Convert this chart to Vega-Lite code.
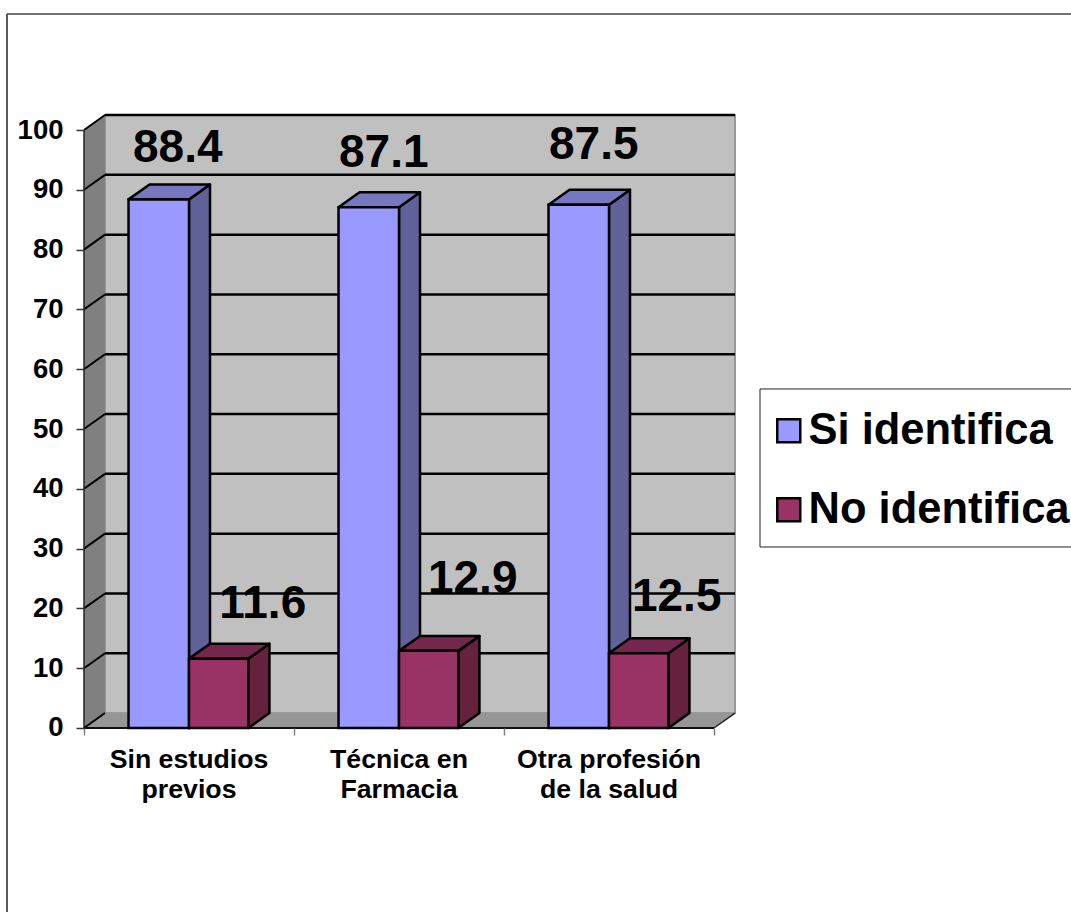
{
"$schema":"https://vega.github.io/schema/vega-lite/v6.json",
"width":1064,"height":898,
"autosize":{"type":"none"},
"padding":{"left":7,"top":14,"right":0,"bottom":0},
"background":"white",
"config":{"font":"Liberation Sans","view":{"stroke":null}},
"data":{"values":[
{"category":"Sin estudios previos","label":"Sin estudios\nprevios","series":"Si identifica","value":88.4},
{"category":"Sin estudios previos","label":"Sin estudios\nprevios","series":"No identifica","value":11.6},
{"category":"Técnica en Farmacia","label":"Técnica en\nFarmacia","series":"Si identifica","value":87.1},
{"category":"Técnica en Farmacia","label":"Técnica en\nFarmacia","series":"No identifica","value":12.9},
{"category":"Otra profesión de la salud","label":"Otra profesión\nde la salud","series":"Si identifica","value":87.5},
{"category":"Otra profesión de la salud","label":"Otra profesión\nde la salud","series":"No identifica","value":12.5}
]},
"transform":[
{"calculate":"indexof(['Sin estudios previos','Técnica en Farmacia','Otra profesión de la salud'],datum.category)","as":"idx"},
{"calculate":"datum.idx+(datum.series==='Si identifica'?0.212:0.5)","as":"x0"},
{"calculate":"datum.idx+(datum.series==='Si identifica'?0.5:0.783)","as":"x1"},
{"calculate":"(datum.x0+datum.x1)/2","as":"xc"}
],
"layer":[
{"data":{"values":[{"k":1}]},"mark":{"type":"rule","stroke":"#222222","strokeWidth":1.5},
 "encoding":{"x":{"datum":-0.3667,"type":"quantitative","scale":{"domain":[-0.3667,4.7],"nice":false,"zero":false},"axis":{"values":[0,1,2,3],"offset":-184,"domain":false,"grid":false,"labels":false,"title":null,"tickSize":7,"tickColor":"#808080","tickWidth":1.5,"zindex":1}}}},
{"data":{"values":[{"k":1}]},"mark":{"type":"rule","stroke":"#444444","strokeWidth":1.5},
 "encoding":{"y":{"datum":119.4,"type":"quantitative","scale":{"domain":[-30.77,119.4],"nice":false,"zero":false},"axis":{"values":[0,10,20,30,40,50,60,70,80,90,100],"offset":-77,"domain":false,"grid":false,"title":null,"tickSize":8,"tickColor":"#333333","tickWidth":1.5,"labelFontSize":27.5,"labelFontWeight":"bold","labelColor":"black","labelPadding":13,"labelFont":"Liberation Sans","zindex":1}}}},
{"data":{"values":[{"k":1}]},"mark":{"type":"rect","fill":"white","stroke":"#222222","strokeWidth":1},
 "encoding":{"x":{"datum":3.219,"type":"quantitative"},"x2":{"datum":4.9},"y":{"datum":56.69,"type":"quantitative"},"y2":{"datum":30.27}}},
{"data":{"values":[{"k":1}]},"mark":{"type":"rect","fill":"#C0C0C0","stroke":"#999999","strokeWidth":2},
 "encoding":{"x":{"datum":0.1,"type":"quantitative"},"x2":{"datum":3.1},"y":{"datum":2.5,"type":"quantitative"},"y2":{"datum":102.5}}},
{"data":{"values":[{"d":0},{"d":1}]},"transform":[{"calculate":"datum.d*0.1","as":"xx"},{"calculate":"datum.d*2.5","as":"yy"},{"calculate":"100+datum.d*2.5","as":"yt"}],
 "mark":{"type":"area","orient":"vertical","fill":"#808080"},
 "encoding":{"x":{"field":"xx","type":"quantitative"},"y":{"field":"yy","type":"quantitative","stack":null},"y2":{"field":"yt"}}},
{"data":{"values":[{"d":0},{"d":1}]},"transform":[{"calculate":"datum.d*0.1","as":"xx"},{"calculate":"3+datum.d*0.1","as":"xr"},{"calculate":"datum.d*2.5","as":"yy"}],
 "mark":{"type":"area","orient":"horizontal","fill":"#969696"},
 "encoding":{"y":{"field":"yy","type":"quantitative"},"x":{"field":"xx","type":"quantitative","stack":null},"x2":{"field":"xr"}}},
{"data":{"values":[{"tick":10},{"tick":20},{"tick":30},{"tick":40},{"tick":50},{"tick":60},{"tick":70},{"tick":80},{"tick":90},{"tick":100}]},
 "transform":[{"calculate":"datum.tick+2.5","as":"ty"}],
 "mark":{"type":"rule","stroke":"black","strokeWidth":2.5},
 "encoding":{"x":{"datum":0.1,"type":"quantitative"},"x2":{"datum":3.1},"y":{"field":"ty","type":"quantitative"}}},
{"data":{"values":[{"tick":0},{"tick":10},{"tick":20},{"tick":30},{"tick":40},{"tick":50},{"tick":60},{"tick":70},{"tick":80},{"tick":90},{"tick":100}]},
 "transform":[{"calculate":"datum.tick+2.5","as":"ty"}],
 "mark":{"type":"rule","stroke":"black","strokeWidth":2},
 "encoding":{"x":{"datum":0,"type":"quantitative"},"x2":{"datum":0.1},
  "y":{"field":"tick","type":"quantitative"},"y2":{"field":"ty"}}},
{"data":{"values":[{"k":1}]},"mark":{"type":"rule","stroke":"#222222","strokeWidth":1.5},
 "encoding":{"x":{"datum":3,"type":"quantitative"},"x2":{"datum":3.1},"y":{"datum":0,"type":"quantitative"},"y2":{"datum":2.5}}},
{"data":{"values":[{"k":1}]},"mark":{"type":"rule","stroke":"#222222","strokeWidth":1.5},
 "encoding":{"x":{"datum":0,"type":"quantitative"},"y":{"datum":0,"type":"quantitative"},"y2":{"datum":100}}},
{"data":{"values":[{"k":1}]},"mark":{"type":"rule","stroke":"#111111","strokeWidth":2},
 "encoding":{"x":{"datum":0,"type":"quantitative"},"x2":{"datum":3},"y":{"datum":0,"type":"quantitative"}}},

{"transform":[{"filter":"datum.series==='Si identifica'"},{"calculate":"[0,1]","as":"d"},{"flatten":["d"]},{"calculate":"datum.x1+0.1*datum.d","as":"sx"},{"calculate":"2.5*datum.d","as":"sb"},{"calculate":"datum.value+2.5*datum.d","as":"st"}],
 "mark":{"type":"area","orient":"vertical","fill":"#616199","stroke":"black","strokeWidth":2.5,"strokeJoin":"round"},
 "encoding":{"x":{"field":"sx","type":"quantitative"},"y":{"field":"sb","type":"quantitative","stack":null},"y2":{"field":"st"},"detail":{"field":"category"}}},
{"transform":[{"filter":"datum.series==='Si identifica'"},{"calculate":"[0,1]","as":"d"},{"flatten":["d"]},{"calculate":"datum.x0+0.1*datum.d","as":"tl"},{"calculate":"datum.x1+0.1*datum.d","as":"tr"},{"calculate":"datum.value+2.5*datum.d","as":"st"}],
 "mark":{"type":"area","orient":"horizontal","fill":"#7777BF","stroke":"black","strokeWidth":2.5,"strokeJoin":"round"},
 "encoding":{"y":{"field":"st","type":"quantitative"},"x":{"field":"tl","type":"quantitative","stack":null},"x2":{"field":"tr"},"detail":{"field":"category"}}},
{"transform":[{"filter":"datum.series==='Si identifica'"}],
 "mark":{"type":"rect","stroke":"black","strokeWidth":2.5},
 "encoding":{"x":{"field":"x0","type":"quantitative"},"x2":{"field":"x1"},"y":{"field":"value","type":"quantitative"},"y2":{"datum":0},
  "color":{"field":"series","type":"nominal","scale":{"domain":["Si identifica","No identifica"],"range":["#9999FF","#993366"]},
   "legend":{"orient":"none","legendX":760,"legendY":395,"title":null,"padding":0,"symbolType":"square","symbolSize":529,"symbolStrokeColor":"black","symbolStrokeWidth":2.5,"symbolOpacity":1,"labelFontSize":43.5,"labelFontWeight":"bold","labelColor":"black","labelFont":"Liberation Sans","labelOffset":-2,"rowPadding":34,"labelLimit":400}}}},

{"transform":[{"filter":"datum.series==='No identifica'"},{"calculate":"[0,1]","as":"d"},{"flatten":["d"]},{"calculate":"datum.x1+0.1*datum.d","as":"sx"},{"calculate":"2.5*datum.d","as":"sb"},{"calculate":"datum.value+2.5*datum.d","as":"st"}],
 "mark":{"type":"area","orient":"vertical","fill":"#66213F","stroke":"black","strokeWidth":2.5,"strokeJoin":"round"},
 "encoding":{"x":{"field":"sx","type":"quantitative"},"y":{"field":"sb","type":"quantitative","stack":null},"y2":{"field":"st"},"detail":{"field":"category"}}},
{"transform":[{"filter":"datum.series==='No identifica'"},{"calculate":"[0,1]","as":"d"},{"flatten":["d"]},{"calculate":"datum.x0+0.1*datum.d","as":"tl"},{"calculate":"datum.x1+0.1*datum.d","as":"tr"},{"calculate":"datum.value+2.5*datum.d","as":"st"}],
 "mark":{"type":"area","orient":"horizontal","fill":"#73274D","stroke":"black","strokeWidth":2.5,"strokeJoin":"round"},
 "encoding":{"y":{"field":"st","type":"quantitative"},"x":{"field":"tl","type":"quantitative","stack":null},"x2":{"field":"tr"},"detail":{"field":"category"}}},
{"transform":[{"filter":"datum.series==='No identifica'"}],
 "mark":{"type":"rect","stroke":"black","strokeWidth":2.5},
 "encoding":{"x":{"field":"x0","type":"quantitative"},"x2":{"field":"x1"},"y":{"field":"value","type":"quantitative"},"y2":{"datum":0},
  "color":{"field":"series","type":"nominal"}}},

{"transform":[{"filter":"datum.series==='Si identifica'"},{"calculate":"datum.idx+0.5","as":"cx"}],
 "mark":{"type":"text","fontSize":26.7,"fontWeight":"bold","color":"black","lineBreak":"\n","lineHeight":30,"baseline":"top","align":"center","dy":19},
 "encoding":{"x":{"field":"cx","type":"quantitative"},"y":{"datum":0,"type":"quantitative"},"text":{"field":"label"}}},

{"transform":[{"filter":"datum.value===88.4"}],"mark":{"type":"text","fontSize":46,"fontWeight":"bold","color":"black","dx":19,"dy":-51},
 "encoding":{"x":{"field":"xc","type":"quantitative"},"y":{"field":"value","type":"quantitative"},"text":{"field":"value","format":".1f"}}},
{"transform":[{"filter":"datum.value===87.1"}],"mark":{"type":"text","fontSize":46,"fontWeight":"bold","color":"black","dx":15,"dy":-54},
 "encoding":{"x":{"field":"xc","type":"quantitative"},"y":{"field":"value","type":"quantitative"},"text":{"field":"value","format":".1f"}}},
{"transform":[{"filter":"datum.value===87.5"}],"mark":{"type":"text","fontSize":46,"fontWeight":"bold","color":"black","dx":15,"dy":-60},
 "encoding":{"x":{"field":"xc","type":"quantitative"},"y":{"field":"value","type":"quantitative"},"text":{"field":"value","format":".1f"}}},
{"transform":[{"filter":"datum.value===11.6"}],"mark":{"type":"text","fontSize":46,"fontWeight":"bold","color":"black","dx":44,"dy":-55},
 "encoding":{"x":{"field":"xc","type":"quantitative"},"y":{"field":"value","type":"quantitative"},"text":{"field":"value","format":".1f"}}},
{"transform":[{"filter":"datum.value===12.9"}],"mark":{"type":"text","fontSize":46,"fontWeight":"bold","color":"black","dx":44,"dy":-72},
 "encoding":{"x":{"field":"xc","type":"quantitative"},"y":{"field":"value","type":"quantitative"},"text":{"field":"value","format":".1f"}}},
{"transform":[{"filter":"datum.value===12.5"}],"mark":{"type":"text","fontSize":46,"fontWeight":"bold","color":"black","dx":38,"dy":-56},
 "encoding":{"x":{"field":"xc","type":"quantitative"},"y":{"field":"value","type":"quantitative"},"text":{"field":"value","format":".1f"}}}
]
}
